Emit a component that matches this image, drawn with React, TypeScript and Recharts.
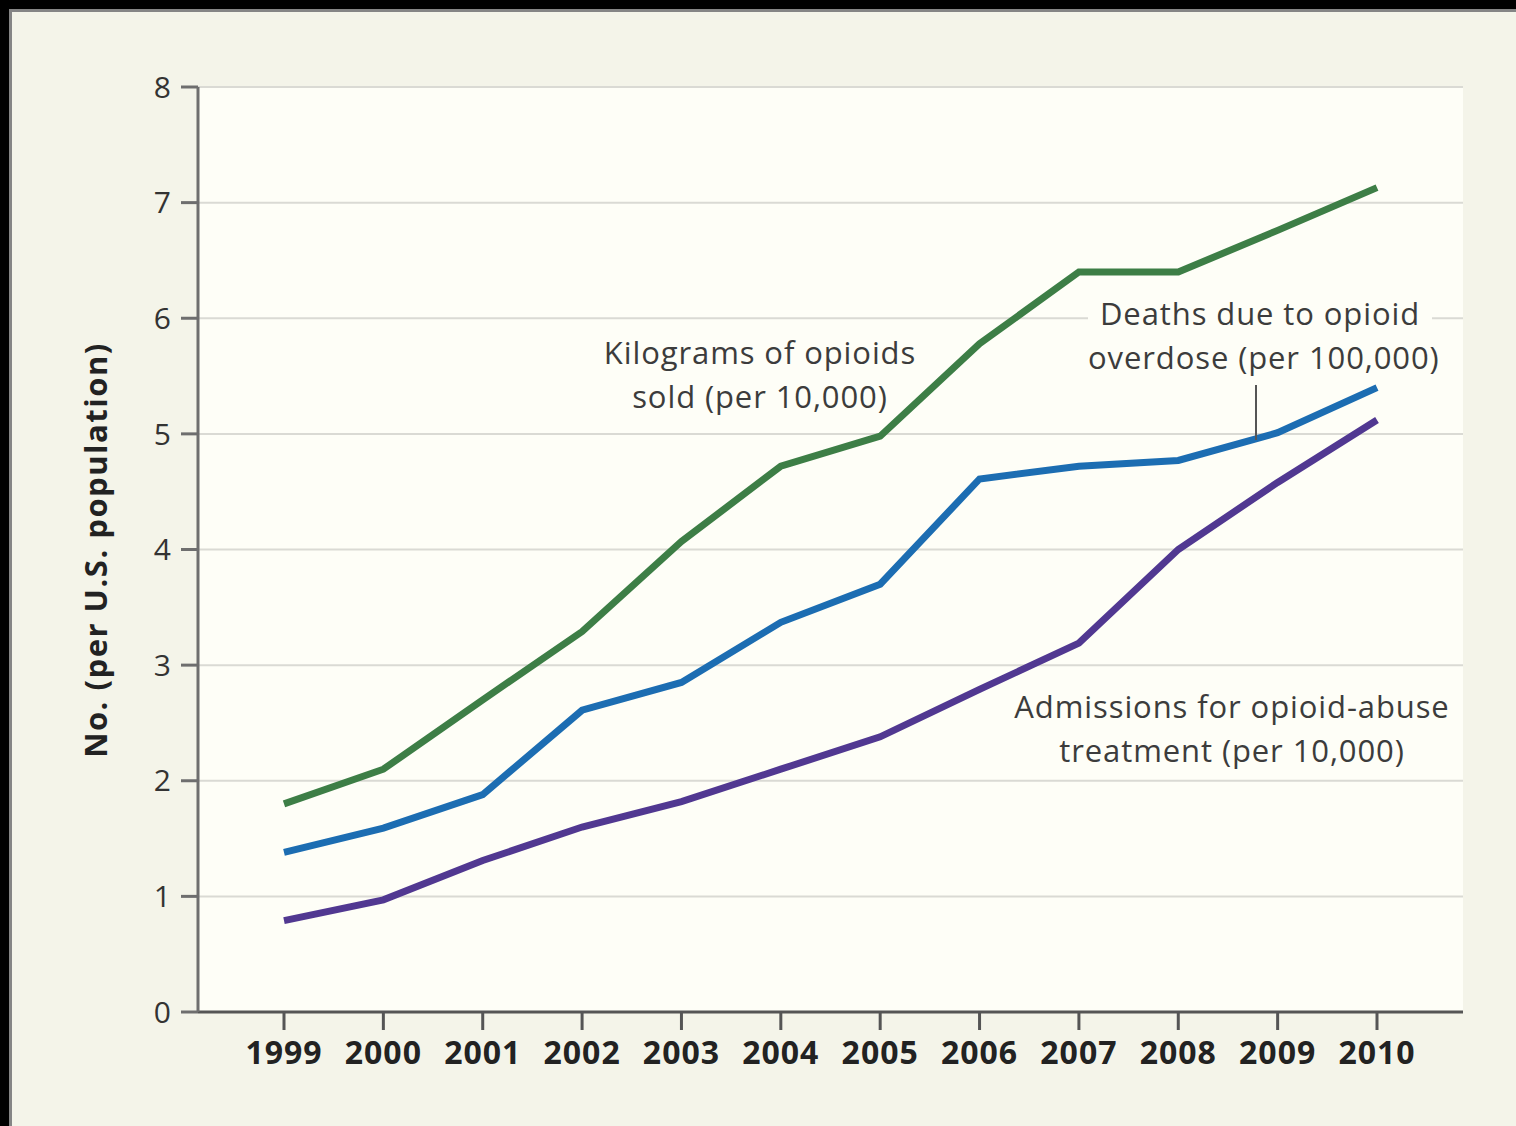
import React from 'react';
import { LineChart, Line, XAxis, YAxis, CartesianGrid } from 'recharts';

const years = ['1999', '2000', '2001', '2002', '2003', '2004', '2005', '2006', '2007', '2008', '2009', '2010'];
const kilograms = [1.8, 2.1, 2.7, 3.29, 4.07, 4.72, 4.98, 5.78, 6.4, 6.4, 6.76, 7.13];
const deaths = [1.38, 1.59, 1.88, 2.61, 2.85, 3.37, 3.7, 4.61, 4.72, 4.77, 5.01, 5.4];
const admissions = [0.79, 0.97, 1.31, 1.6, 1.82, 2.1, 2.38, 2.79, 3.19, 4.0, 4.58, 5.12];
const yTicks = [0, 1, 2, 3, 4, 5, 6, 7, 8];

const data = years.map((year, i) => ({
  year,
  kilograms: kilograms[i],
  deaths: deaths[i],
  admissions: admissions[i],
}));

const font = '"Open Sans", "Noto Sans", sans-serif';

const noteStyle: React.CSSProperties = {
  position: 'absolute',
  fontFamily: font,
  fontSize: 31,
  letterSpacing: '0.9px',
  lineHeight: '44px',
  color: '#3c3c3c',
  textAlign: 'center',
  whiteSpace: 'nowrap',
};

const YLabel = () => (
  <text
    x={95}
    y={550}
    transform="rotate(-90, 95, 550)"
    textAnchor="middle"
    dominantBaseline="central"
    fontFamily={font}
    fontSize={31}
    fontWeight={700}
    letterSpacing={1.5}
    fill="#222"
  >
    No. (per U.S. population)
  </text>
);

export default function App() {
  return (
    <div style={{ position: 'fixed', left: 0, top: 0, width: 1516, height: 1126, background: '#000', overflow: 'hidden' }}>
      <div
        style={{
          position: 'absolute',
          left: 9,
          top: 9,
          width: 1507,
          height: 1117,
          background: '#f4f4e9',
          borderLeft: '3px solid #858585',
          borderTop: '3px solid #858585',
          boxSizing: 'border-box',
        }}
      />
      <div style={{ position: 'absolute', left: 0, top: 0 }}>
        <LineChart width={1516} height={1126} data={data} margin={{ top: 87, right: 53, bottom: 0, left: 0 }}>
          <CartesianGrid vertical={false} stroke="#dadad4" strokeWidth={2} fill="#fefef7" />
          <XAxis
            dataKey="year"
            padding={{ left: 86, right: 86 }}
            height={114}
            stroke="#555"
            strokeWidth={3}
            tickSize={18}
            tickMargin={11}
            tick={{ fontFamily: font, fontSize: 32, fontWeight: 700, fill: '#222', letterSpacing: 1 }}
            interval={0}
          />
          <YAxis
            domain={[0, 8]}
            ticks={yTicks}
            width={198}
            stroke="#6e6e6e"
            strokeWidth={3}
            tickSize={17}
            tickMargin={10}
            tick={{ fontFamily: font, fontSize: 30, fill: '#333' }}
            label={<YLabel />}
          />
          <Line dataKey="kilograms" stroke="#3d7e46" strokeWidth={7} dot={false} isAnimationActive={false} />
          <Line dataKey="deaths" stroke="#1c6db2" strokeWidth={7} dot={false} isAnimationActive={false} />
          <Line dataKey="admissions" stroke="#513891" strokeWidth={7} dot={false} isAnimationActive={false} />
        </LineChart>
      </div>
      <div style={{ ...noteStyle, left: 560, top: 330, width: 400 }}>
        Kilograms of opioids
        <br />
        sold (per 10,000)
      </div>
      <div style={{ ...noteStyle, left: 1088, top: 291, width: 344, background: '#fefef7' }}>
        Deaths due to opioid
        <br />
        overdose (per 100,000)
      </div>
      <div style={{ position: 'absolute', left: 1255, top: 385, width: 2, height: 55, background: '#555' }} />
      <div style={{ ...noteStyle, left: 1002, top: 684, width: 460 }}>
        Admissions for opioid-abuse
        <br />
        treatment (per 10,000)
      </div>
    </div>
  );
}
